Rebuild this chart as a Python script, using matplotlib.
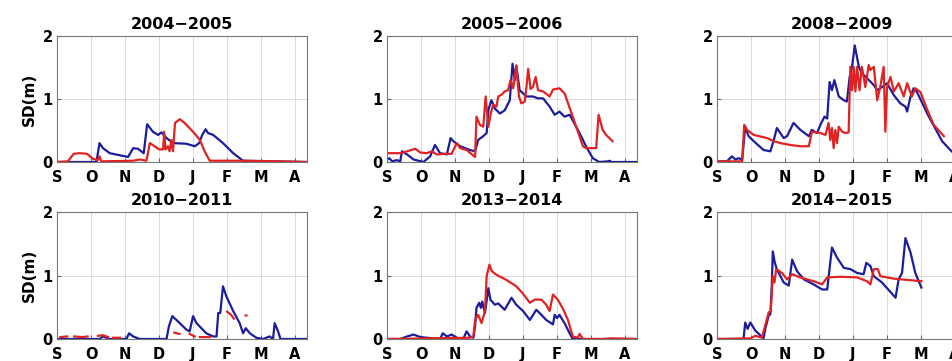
import numpy as np
import matplotlib
matplotlib.use("Agg")
import matplotlib.pyplot as plt

# x values are months since 1 September (S=0, O=1, ... A=7)
months = ["S", "O", "N", "D", "J", "F", "M", "A"]
seasons = ["2004−2005", "2005−2006", "2008−2009", "2010−2011", "2013−2014", "2014−2015"]

t_0405_blue = [0, 1.16, 1.25, 1.35, 1.55, 2.09, 2.24, 2.38, 2.55, 2.65, 2.82, 2.97, 3.07, 3.22, 3.41, 3.8,
               4.05, 4.18, 4.27, 4.37, 4.44, 4.59, 4.88, 5.18, 5.47, 7.33]
sd_0405_blue = [0, 0, 0.30, 0.22, 0.14, 0.08, 0.22, 0.21, 0.14, 0.60, 0.48, 0.43, 0.47, 0.38, 0.30, 0.29,
                0.25, 0.30, 0.43, 0.52, 0.46, 0.43, 0.30, 0.14, 0.02, 0.0]
t_0405_red = [0, 0.32, 0.49, 0.67, 0.88, 1.06, 1.2, 1.25, 1.3, 2.24, 2.43, 2.63, 2.73, 2.87, 3.0, 3.12, 3.15,
              3.19, 3.26, 3.31, 3.36, 3.41, 3.47, 3.61, 3.75, 4.0, 4.2, 4.34, 4.49, 5.47, 6.55, 7.33]
sd_0405_red = [0, 0.01, 0.13, 0.14, 0.13, 0.05, 0.03, 0.09, 0.01, 0.02, 0.04, 0.02, 0.30, 0.25, 0.20, 0.20, 0.48,
               0.20, 0.25, 0.17, 0.35, 0.17, 0.62, 0.68, 0.62, 0.48, 0.35, 0.17, 0.02, 0.02, 0.01, 0.0]

t_0506_blue = [0, 0.07, 0.15, 0.29, 0.39, 0.44, 0.59, 0.78, 1.07, 1.27, 1.41, 1.56, 1.76, 1.87, 1.95, 2.15,
               2.44, 2.59, 2.68, 2.83, 2.93, 2.98, 3.07, 3.17, 3.32, 3.46, 3.61, 3.69, 3.76, 3.8, 3.9, 4.1,
               4.29, 4.44, 4.59, 4.78, 4.93, 5.07, 5.22, 5.37, 5.66, 5.85, 6.05, 6.24, 6.49, 6.55, 6.6, 7.35]
sd_0506_blue = [0.04, 0.06, 0.01, 0.03, 0.01, 0.17, 0.12, 0.04, 0.0, 0.09, 0.27, 0.14, 0.12, 0.38, 0.33, 0.25,
                0.19, 0.17, 0.35, 0.41, 0.46, 0.83, 0.98, 0.85, 0.77, 0.82, 0.98, 1.56, 1.30, 1.53, 1.14, 1.04,
                1.04, 1.01, 1.01, 0.88, 0.75, 0.80, 0.72, 0.75, 0.46, 0.25, 0.06, 0.0, 0.01, 0.02, 0.0, 0.0]
t_0506_red = [0, 0.39, 0.59, 0.83, 0.98, 1.17, 1.32, 1.46, 1.71, 1.9, 2.05, 2.15, 2.34, 2.59, 2.63, 2.73, 2.83,
              2.9, 2.98, 3.05, 3.12, 3.22, 3.27, 3.37, 3.46, 3.56, 3.63, 3.71, 3.8, 3.88, 3.95, 4.05, 4.1, 4.15,
              4.22, 4.29, 4.37, 4.44, 4.59, 4.78, 4.88, 5.07, 5.22, 5.46, 5.76, 5.85, 6.15, 6.22, 6.34, 6.44, 6.63]
sd_0506_red = [0.14, 0.14, 0.17, 0.21, 0.15, 0.14, 0.17, 0.12, 0.13, 0.13, 0.30, 0.22, 0.19, 0.08, 0.72, 0.59,
               0.56, 1.04, 0.56, 0.77, 0.91, 0.88, 1.04, 1.07, 1.12, 1.14, 1.30, 1.17, 1.53, 1.04, 0.93, 0.96,
               1.19, 1.48, 1.16, 1.19, 1.35, 1.14, 1.12, 1.04, 1.15, 1.17, 1.09, 0.72, 0.25, 0.22, 0.22, 0.75,
               0.51, 0.43, 0.33]

t_0809_blue = [0, 0.29, 0.44, 0.54, 0.64, 0.74, 0.83, 0.93, 1.08, 1.37, 1.57, 1.67, 1.76, 1.96, 2.06, 2.25,
               2.45, 2.7, 2.79, 2.94, 3.04, 3.16, 3.24, 3.31, 3.38, 3.45, 3.58, 3.73, 3.82, 3.9, 3.97, 4.05,
               4.17, 4.26, 4.41, 4.61, 4.71, 4.85, 5.0, 5.2, 5.39, 5.54, 5.59, 5.69, 5.78, 5.88, 6.18, 6.47,
               6.62, 6.86, 7.0, 7.16, 7.35]
sd_0809_blue = [0.01, 0.01, 0.09, 0.04, 0.06, 0.04, 0.56, 0.41, 0.33, 0.19, 0.17, 0.35, 0.54, 0.38, 0.41, 0.62,
                0.51, 0.41, 0.51, 0.46, 0.59, 0.72, 0.69, 1.27, 1.14, 1.30, 1.04, 0.98, 0.96, 1.35, 1.51, 1.85,
                1.51, 1.41, 1.33, 1.22, 1.14, 1.19, 1.25, 1.06, 0.93, 0.88, 0.80, 1.04, 1.17, 1.11, 0.77, 0.48,
                0.33, 0.19, 0.12, 0.05, 0.02]
t_0809_red = [0, 0.74, 0.8, 0.88, 1.08, 1.47, 1.67, 1.86, 2.16, 2.45, 2.7, 2.79, 3.04, 3.19, 3.28, 3.33, 3.38,
              3.43, 3.48, 3.53, 3.58, 3.68, 3.77, 3.87, 3.92, 3.97, 4.02, 4.07, 4.12, 4.19, 4.26, 4.36, 4.46,
              4.51, 4.61, 4.71, 4.8, 4.9, 4.95, 5.0, 5.1, 5.2, 5.34, 5.49, 5.59, 5.73, 5.83, 5.98, 6.18, 6.37, 6.67]
sd_0809_red = [0.01, 0.01, 0.59, 0.51, 0.43, 0.38, 0.33, 0.30, 0.27, 0.25, 0.25, 0.48, 0.46, 0.43, 0.62, 0.35,
               0.54, 0.22, 0.51, 0.30, 0.56, 0.48, 0.46, 0.47, 1.51, 1.14, 1.51, 1.12, 1.51, 1.14, 1.51, 1.19,
               1.54, 1.46, 1.51, 0.98, 1.19, 1.51, 0.48, 1.19, 1.35, 1.12, 1.25, 1.04, 1.25, 1.04, 1.17, 1.11,
               0.83, 0.59, 0.41]

t_1011_blue = [0, 1.25, 1.35, 1.55, 2.04, 2.12, 2.24, 2.43, 3.22, 3.29, 3.39, 3.51, 3.8, 3.9, 4.0, 4.1, 4.39,
               4.59, 4.69, 4.74, 4.8, 4.88, 4.98, 5.18, 5.37, 5.47, 5.55, 5.67, 5.86, 6.06, 6.25, 6.35, 6.4, 6.5,
               6.57, 7.33]
sd_1011_blue = [0, 0, 0.04, 0, 0, 0.09, 0.04, 0, 0, 0.20, 0.36, 0.30, 0.15, 0.12, 0.36, 0.25, 0.09, 0.04, 0.04,
                0.41, 0.41, 0.83, 0.67, 0.44, 0.25, 0.09, 0.17, 0.09, 0.02, 0, 0.04, 0, 0.25, 0.12, 0, 0]
# red series has gaps in this season
t_1011_red = [0.1, 0.3, np.nan, 0.5, 0.75, 0.9, np.nan, 1.2, 1.35, 1.5, np.nan, 1.65, 1.85, np.nan, 3.45, 3.6,
              np.nan, 3.9, 4.05, np.nan, 4.2, 4.5, np.nan, 5.0, 5.12, 5.2, np.nan, 5.55, 5.57]
sd_1011_red = [0.03, 0.04, np.nan, 0.04, 0.03, 0.04, np.nan, 0.05, 0.06, 0.03, np.nan, 0.02, 0.02, np.nan, 0.10,
               0.08, np.nan, 0.08, 0.04, np.nan, 0.03, 0.03, np.nan, 0.43, 0.38, 0.32, np.nan, 0.37, 0.37]

t_1314_blue = [0, 0.39, 0.59, 0.78, 0.98, 1.17, 1.56, 1.64, 1.76, 1.9, 2.05, 2.24, 2.34, 2.44, 2.54, 2.59, 2.63,
               2.71, 2.76, 2.8, 2.88, 2.98, 3.04, 3.17, 3.27, 3.46, 3.66, 3.8, 4.0, 4.2, 4.39, 4.54, 4.68, 4.88,
               4.93, 5.0, 5.07, 5.22, 5.37, 5.46, 7.35]
sd_1314_blue = [0, 0, 0.04, 0.07, 0.03, 0.02, 0, 0.09, 0.04, 0.07, 0.02, 0, 0.12, 0.04, 0.02, 0.20, 0.49, 0.57,
                0.49, 0.59, 0.41, 0.80, 0.62, 0.54, 0.56, 0.46, 0.65, 0.54, 0.44, 0.30, 0.46, 0.38, 0.30, 0.23,
                0.38, 0.33, 0.38, 0.25, 0.09, 0, 0]
t_1314_red = [0, 2.44, 2.54, 2.59, 2.68, 2.78, 2.88, 2.93, 3.01, 3.08, 3.22, 3.51, 3.8, 3.99, 4.2, 4.34, 4.54,
              4.68, 4.78, 4.88, 5.02, 5.17, 5.32, 5.46, 5.61, 5.66, 5.76, 6.35, 6.6, 7.35]
sd_1314_red = [0, 0.02, 0.04, 0.30, 0.38, 0.25, 0.44, 0.99, 1.17, 1.07, 1.01, 0.93, 0.83, 0.72, 0.57, 0.62,
               0.62, 0.54, 0.44, 0.70, 0.62, 0.48, 0.30, 0.04, 0.02, 0.08, 0, 0, 0.01, 0]

t_1415_blue = [0, 0.78, 0.83, 0.9, 0.98, 1.13, 1.27, 1.37, 1.42, 1.52, 1.57, 1.61, 1.64, 1.7, 1.76, 1.96, 2.11,
               2.21, 2.35, 2.55, 2.84, 3.09, 3.24, 3.38, 3.53, 3.73, 3.92, 4.12, 4.31, 4.39, 4.51, 4.61, 4.85,
               5.25, 5.34, 5.44, 5.54, 5.69, 5.83, 6.01]
sd_1415_blue = [0, 0, 0.26, 0.16, 0.26, 0.13, 0.06, 0.01, 0.16, 0.37, 0.39, 0.84, 1.38, 1.20, 1.10, 0.89, 0.84,
                1.25, 1.07, 0.94, 0.86, 0.78, 0.78, 1.44, 1.28, 1.12, 1.10, 1.04, 1.02, 1.20, 1.15, 0.99, 0.89,
                0.65, 0.94, 1.04, 1.59, 1.36, 1.04, 0.81]
t_1415_red = [0, 0.98, 1.13, 1.32, 1.39, 1.52, 1.58, 1.64, 1.69, 1.74, 1.91, 2.06, 2.21, 2.45, 2.84, 3.09, 3.24,
              3.63, 4.12, 4.41, 4.51, 4.61, 4.73, 4.8, 5.2, 6.01]
sd_1415_red = [0, 0.01, 0.05, 0.02, 0.16, 0.42, 0.44, 0.99, 0.89, 1.10, 1.04, 0.94, 1.02, 0.97, 0.91, 0.86,
               0.97, 0.98, 0.97, 0.91, 0.86, 1.10, 1.10, 0.99, 0.95, 0.91]

blue_series = [(t_0405_blue, sd_0405_blue), (t_0506_blue, sd_0506_blue), (t_0809_blue, sd_0809_blue),
               (t_1011_blue, sd_1011_blue), (t_1314_blue, sd_1314_blue), (t_1415_blue, sd_1415_blue)]
red_series = [(t_0405_red, sd_0405_red), (t_0506_red, sd_0506_red), (t_0809_red, sd_0809_red),
              (t_1011_red, sd_1011_red), (t_1314_red, sd_1314_red), (t_1415_red, sd_1415_red)]

plt.rcParams['font.family'] = 'DejaVu Sans'
plt.rcParams['font.weight'] = 'bold'
plt.rcParams['axes.titleweight'] = 'bold'
plt.rcParams['axes.labelweight'] = 'bold'

W, H = 953, 361
fig = plt.figure(figsize=(W / 100, H / 100), dpi=100)

# pixel layout of the panels (right column runs past the figure edge, as in the original)
lefts = [57, 387, 717]
tops = [36, 212]
heights = [126, 127]
panel_w = 250

for i, season in enumerate(seasons):
    row, col = divmod(i, 3)
    left, top, h = lefts[col], tops[row], heights[row]
    ax = fig.add_axes([left / W, 1 - (top + h) / H, panel_w / W, h / H])

    tb, sb = blue_series[i]
    tr, sr = red_series[i]
    ax.plot(tb, sb, color='#1c1c9c', lw=1.6)
    ax.plot(tr, sr, color='#e02222', lw=1.6)

    ax.set_xlim(0, 7.35)
    ax.set_ylim(0, 2)
    ax.set_xticks(range(len(months)))
    ax.set_xticklabels(months)
    ax.set_yticks([0, 1, 2])
    ax.grid(True, color='#dcdcdc', lw=0.7)
    ax.set_axisbelow(True)
    ax.tick_params(direction='in', length=3, color='#666666', labelsize=10.5, pad=3)
    ax.tick_params(axis='x', pad=6)
    for sp in ax.spines.values():
        sp.set_color('#777777')
        sp.set_linewidth(0.8)
    ax.set_title(season, fontsize=11.5, pad=5)
    if col == 0:
        ax.set_ylabel("SD(m)", fontsize=11, labelpad=4)

fig.savefig("out.png", dpi=100)
